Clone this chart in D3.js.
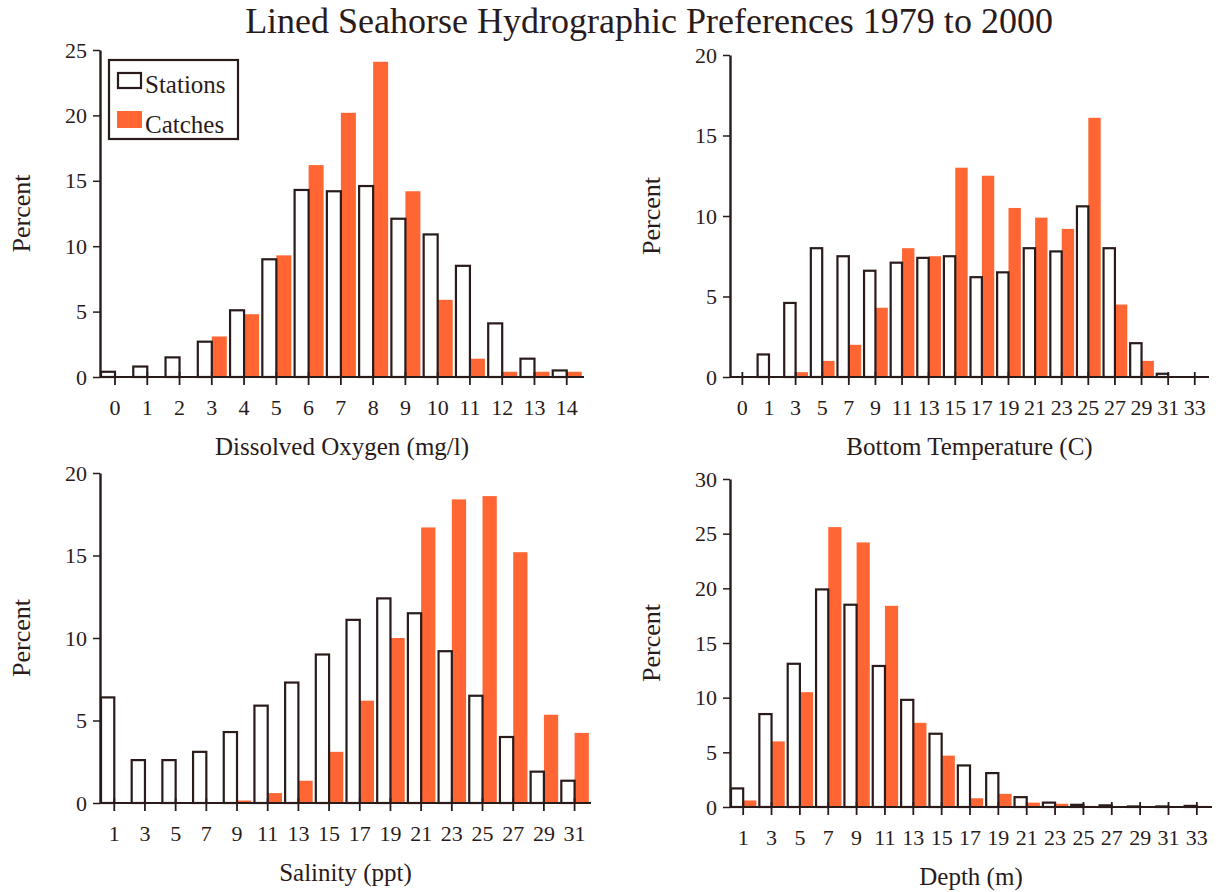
<!DOCTYPE html>
<html>
<head>
<meta charset="utf-8">
<script src="https://cdn.jsdelivr.net/npm/d3@7"></script>
<style>
body { margin: 0; background: #fff; }
text { font-family: "Liberation Serif", "Times New Roman", serif; fill: #2a1b1b; }
</style>
</head>
<body>
<svg id="chart" width="1218" height="892"></svg>
<script>
// dissolved oxygen (mg/l)
var oxyCats = [0,1,2,3,4,5,6,7,8,9,10,11,12,13,14];
var oxyStations = [0.4,0.8,1.5,2.7,5.1,9.0,14.3,14.2,14.6,12.1,10.9,8.5,4.1,1.4,0.5];
var oxyCatches  = [0,0,0,3.1,4.8,9.3,16.2,20.2,24.1,14.2,5.9,1.4,0.4,0.4,0.4];

// bottom temperature (C)
var tempCats = [0,1,3,5,7,9,11,13,15,17,19,21,23,25,27,29,31,33];
var tempStations = [0,1.4,4.6,8.0,7.5,6.6,7.1,7.4,7.5,6.2,6.5,8.0,7.8,10.6,8.0,2.1,0.2,0];
var tempCatches  = [0,0,0.3,1.0,2.0,4.3,8.0,7.5,13.0,12.5,10.5,9.9,9.2,16.1,4.5,1.0,0,0];

// salinity (ppt)
var salCats = [1,3,5,7,9,11,13,15,17,19,21,23,25,27,29,31];
var salStations = [6.4,2.6,2.6,3.1,4.3,5.9,7.3,9.0,11.1,12.4,11.5,9.2,6.5,4.0,1.9,1.35];
var salCatches  = [0,0,0,0,0.15,0.6,1.35,3.1,6.2,10.0,16.7,18.4,18.6,15.2,5.35,4.25];

// depth (m)
var depthCats = [1,3,5,7,9,11,13,15,17,19,21,23,25,27,29,31,33];
var depthStations = [1.7,8.5,13.1,19.9,18.5,12.9,9.8,6.7,3.8,3.1,0.9,0.4,0.2,0.15,0.05,0.05,0.1];
var depthCatches  = [0.6,6.0,10.5,25.6,24.2,18.4,7.7,4.7,0.8,1.2,0.4,0.3,0.1,0,0,0,0.1];

var orange = "#ff6633", ink = "#2a1b1b";

var svg = d3.select("#chart");

svg.append("text")
  .attr("x", 649).attr("y", 33)
  .attr("text-anchor", "middle")
  .style("font-size", "36px")
  .text("Lined Seahorse Hydrographic Preferences 1979 to 2000");

var panels = [
  {cats: oxyCats, st: oxyStations, ca: oxyCatches, x0: 100, x1: 584, y0: 377, y1: 50, yMax: 25, title: "Dissolved Oxygen (mg/l)", legend: true},
  {cats: tempCats, st: tempStations, ca: tempCatches, x0: 730, x1: 1209, y0: 377, y1: 55, yMax: 20, title: "Bottom Temperature (C)"},
  {cats: salCats, st: salStations, ca: salCatches, x0: 100, x1: 591, y0: 803, y1: 473, yMax: 20, title: "Salinity (ppt)"},
  {cats: depthCats, st: depthStations, ca: depthCatches, x0: 730, x1: 1212, y0: 807, y1: 479, yMax: 30, title: "Depth (m)"}
];

panels.forEach(function(p) {
  var x = d3.scaleBand().domain(p.cats).range([p.x0, p.x1]);
  var y = d3.scaleLinear().domain([0, p.yMax]).range([p.y0, p.y1]);
  var bw = x.bandwidth(), barW = bw * 0.465;
  var g = svg.append("g");

  // catches (solid orange)
  g.selectAll(".catch").data(p.cats).enter().append("rect")
    .attr("x", function(d) { return x(d) + barW; })
    .attr("y", function(d, i) { return y(p.ca[i]); })
    .attr("width", barW)
    .attr("height", function(d, i) { return y(0) - y(p.ca[i]); })
    .attr("fill", orange);

  // stations (open bars)
  g.selectAll(".station").data(p.cats.filter(function(d, i) { return p.st[i] > 0; })).enter().append("rect")
    .attr("x", function(d) { return x(d) + 1; })
    .attr("y", function(d) { return y(p.st[p.cats.indexOf(d)]); })
    .attr("width", barW - 1)
    .attr("height", function(d) { return y(0) - y(p.st[p.cats.indexOf(d)]); })
    .attr("fill", "#fff")
    .attr("stroke", ink)
    .attr("stroke-width", 2.2);

  // x axis, ticks sit between the two bars of a category
  var xa = g.append("g")
    .attr("transform", "translate(" + (barW - bw / 2) + "," + p.y0 + ")")
    .call(d3.axisBottom(x).tickSize(8).tickSizeOuter(0).tickPadding(14));
  xa.select(".domain").remove();
  xa.selectAll(".tick line").attr("y1", -5).attr("stroke", ink).attr("stroke-width", 1.8);
  xa.selectAll(".tick text").style("font-size", "22px").style("font-family", null).attr("fill", ink);
  g.append("line")
    .attr("x1", p.x0).attr("x2", p.x1)
    .attr("y1", p.y0).attr("y2", p.y0)
    .attr("stroke", ink).attr("stroke-width", 2.2);

  // y axis
  var ya = g.append("g")
    .attr("transform", "translate(" + p.x0 + ",0)")
    .call(d3.axisLeft(y).tickValues(d3.range(0, p.yMax + 1, 5)).tickSize(7).tickSizeOuter(0).tickPadding(6));
  ya.select(".domain").attr("stroke", ink).attr("stroke-width", 2.4);
  ya.selectAll(".tick line").attr("stroke", ink).attr("stroke-width", 1.5);
  ya.selectAll(".tick text").style("font-size", "22px").style("font-family", null).attr("fill", ink);

  g.append("text")
    .attr("transform", "translate(" + (p.x0 - 70) + "," + ((p.y0 + p.y1) / 2) + ") rotate(-90)")
    .attr("text-anchor", "middle")
    .style("font-size", "26px")
    .text("Percent");

  g.append("text")
    .attr("x", (p.x0 + p.x1) / 2).attr("y", p.y0 + 78)
    .attr("text-anchor", "middle")
    .style("font-size", "25px")
    .text(p.title);

  if (p.legend) {
    var lg = g.append("g");
    lg.append("rect").attr("x", 109).attr("y", 60).attr("width", 129).attr("height", 79)
      .attr("fill", "#fff").attr("stroke", ink).attr("stroke-width", 2.2);
    lg.append("rect").attr("x", 118).attr("y", 73).attr("width", 23).attr("height", 15)
      .attr("fill", "#fff").attr("stroke", ink).attr("stroke-width", 2.2);
    lg.append("rect").attr("x", 117).attr("y", 111).attr("width", 25).attr("height", 17)
      .attr("fill", orange);
    lg.append("text").attr("x", 145).attr("y", 93).style("font-size", "25px").text("Stations");
    lg.append("text").attr("x", 145).attr("y", 133).style("font-size", "25px").text("Catches");
  }
});
</script>
</body>
</html>
